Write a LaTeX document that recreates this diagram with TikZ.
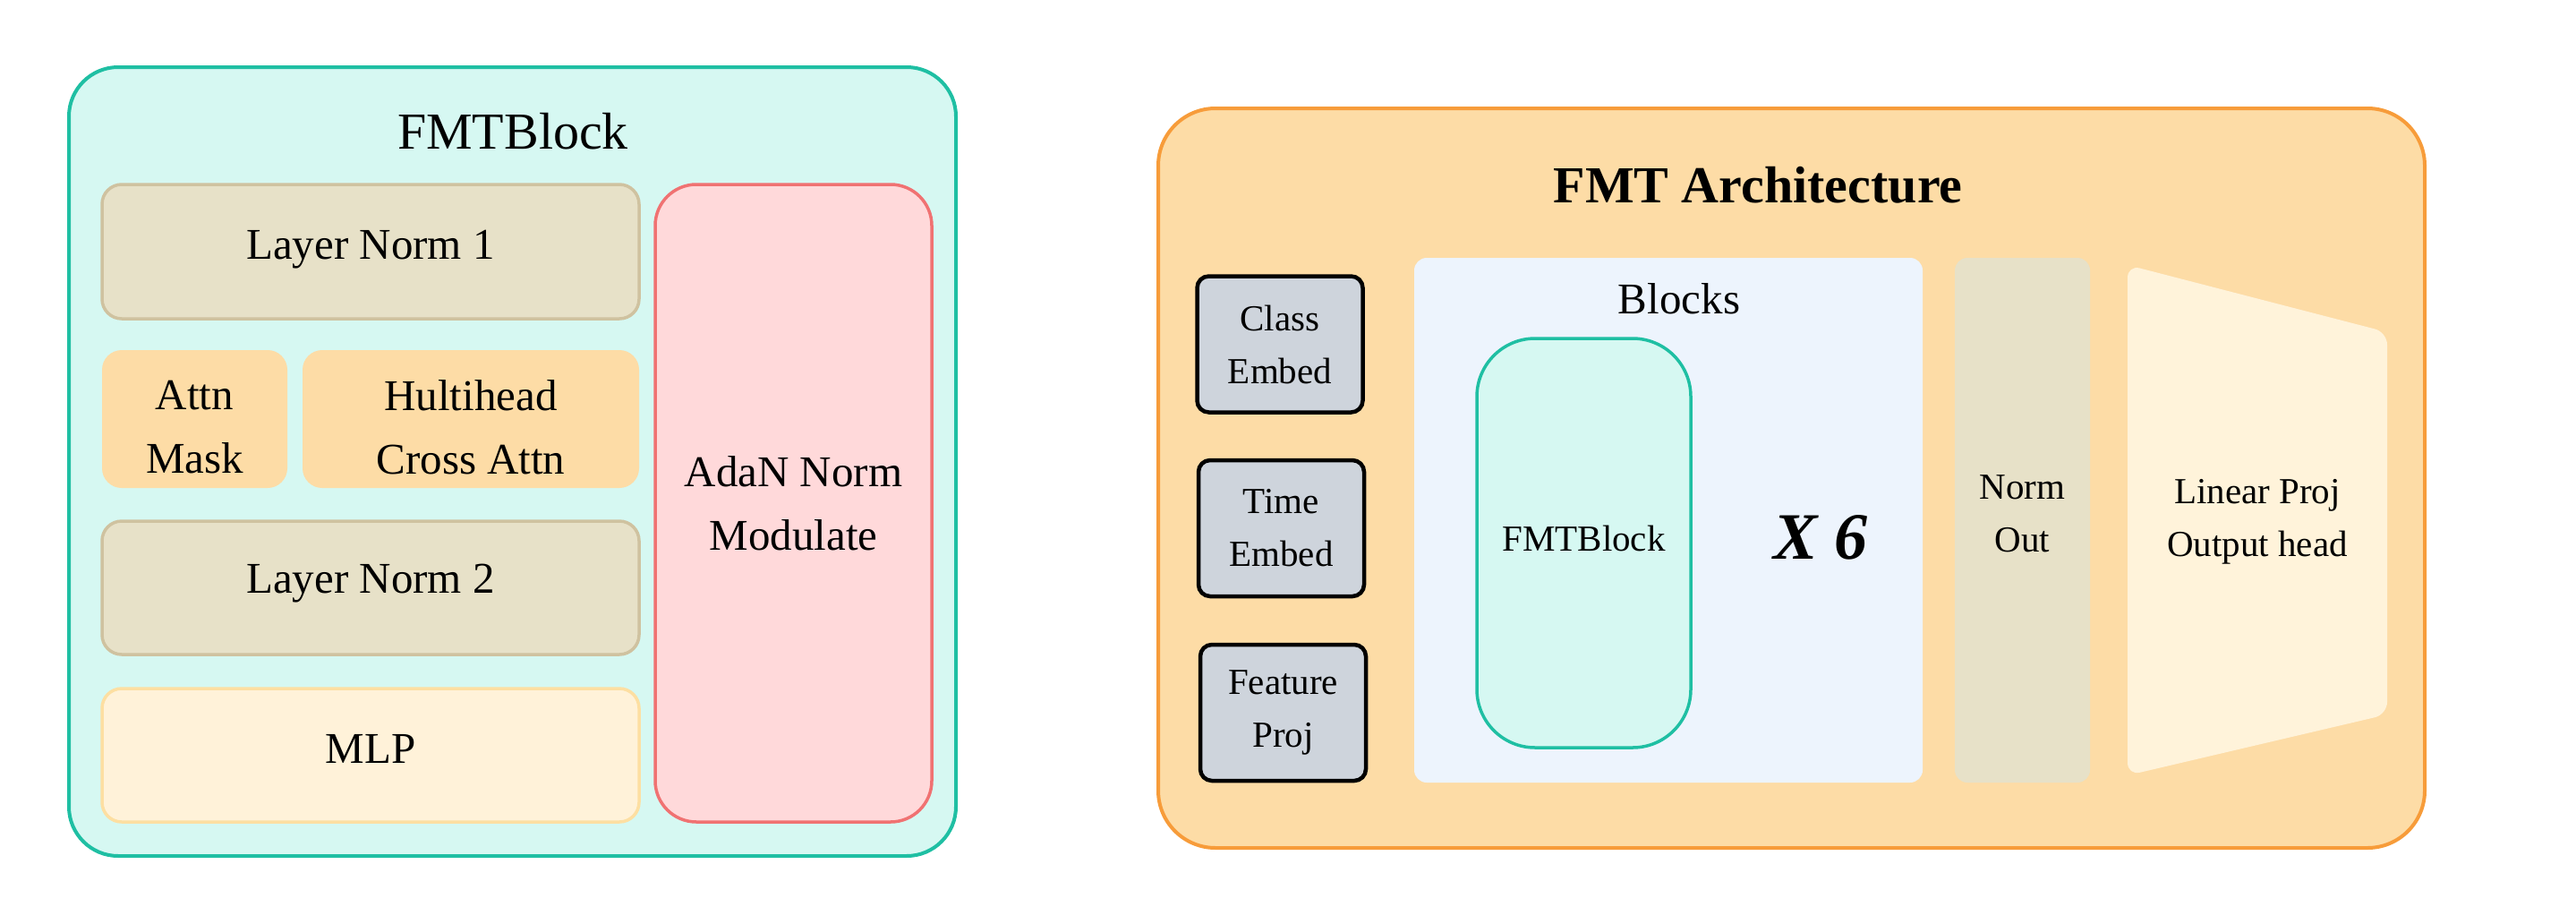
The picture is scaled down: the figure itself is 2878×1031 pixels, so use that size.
\documentclass[tikz,border=0pt]{standalone}
\usepackage{fontspec}
\setmainfont{Liberation Serif}
\definecolor{tealS}{HTML}{1FBFA3}
\definecolor{tealF}{HTML}{D6F8F2}
\definecolor{lnF}{HTML}{E7E1C8}
\definecolor{lnS}{HTML}{CFC2A0}
\definecolor{orF}{HTML}{FDDCA6}
\definecolor{orS}{HTML}{F79C3A}
\definecolor{mlpF}{HTML}{FFF2D9}
\definecolor{mlpS}{HTML}{FDDFA2}
\definecolor{adaF}{HTML}{FFD9DA}
\definecolor{adaS}{HTML}{F07272}
\definecolor{embF}{HTML}{CED4DC}
\definecolor{blkF}{HTML}{EDF4FD}
\definecolor{linF}{HTML}{FFF3DA}
\newcommand\fsBig{\fontsize{49}{71}\selectfont}
\newcommand\fsSmall{\fontsize{41}{59}\selectfont}
\newcommand\fsTitle{\fontsize{58}{70}\selectfont}
\begin{document}
\begin{tikzpicture}[x=1pt,y=-1pt,
  panel/.style={rectangle, inner sep=0pt, line width=4pt},
  bx/.style={rectangle, rounded corners=22pt, inner sep=0pt, align=center, font=\fsBig},
  lnbox/.style={bx, fill=lnF, draw=lnS, line width=3.5pt},
  orbox/.style={bx, fill=orF},
  embbox/.style={rectangle, rounded corners=13pt, inner sep=0pt, align=center, font=\fsSmall, fill=embF, draw=black, line width=4.5pt, minimum width=185pt, minimum height=152pt},
  txt/.style={inner sep=0pt, align=center}]
\useasboundingbox (0,0) rectangle (2878,1031);

% ---------- left panel ----------
\node[panel, rounded corners=55pt, fill=tealF, draw=tealS, minimum width=991pt, minimum height=881pt] (left) at (572.5,515.5) {};
\node[txt, font=\fsTitle] (ltitle) at (573,147) {FMTBlock};
\node[lnbox, minimum width=600pt, minimum height=150pt] (ln1) at (414,281) {};
\node[txt, font=\fsBig] (ln1t) at (414,279) {Layer Norm 1};
\node[orbox, minimum width=207pt, minimum height=154pt] (mask) at (217.5,468) {};
\node[txt, font=\fsBig] (maskt) at (217.5,477) {Attn\\Mask};
\node[orbox, minimum width=376pt, minimum height=154pt] (cross) at (526,468) {};
\node[txt, font=\fsBig] (crosst) at (526,477) {Hultihead\\Cross Attn};
\node[lnbox, minimum width=600pt, minimum height=149pt] (ln2) at (414,656.5) {};
\node[txt, font=\fsBig] (ln2t) at (414,652) {Layer Norm 2};
\node[bx, fill=mlpF, draw=mlpS, line width=3.5pt, minimum width=600pt, minimum height=149pt] (mlp) at (414,843.5) {};
\node[txt, font=\fsBig] (mlpt) at (414,836) {MLP};
\node[bx, rounded corners=46pt, fill=adaF, draw=adaS, line width=3.5pt, minimum width=309pt, minimum height=712pt] (ada) at (886.5,562) {AdaN Norm\\Modulate};

% ---------- right panel ----------
\node[panel, rounded corners=64pt, fill=orF, draw=orS, minimum width=1415pt, minimum height=826pt] (right) at (2001.5,534) {};
\node[txt, font=\fsTitle\bfseries] (rtitle) at (1964,207) {FMT Architecture};
\node[embbox] (cls) at (1430,384.5) {Class\\Embed};
\node[embbox] (time) at (1431.5,590) {Time\\Embed};
\node[embbox] (feat) at (1433.5,796) {Feature\\Proj};
\node[rectangle, rounded corners=14pt, inner sep=0pt, fill=blkF, minimum width=568pt, minimum height=586pt] (blocks) at (1864,581) {};
\node[txt, font=\fsBig] (blabel) at (1876,334) {Blocks};
\node[rectangle, rounded corners=65pt, inner sep=0pt, fill=tealF, draw=tealS, line width=3.5pt, minimum width=239pt, minimum height=457pt] (fmt) at (1769.5,606.5) {};
\node[txt, font=\fsSmall] (fmtt) at (1769.5,601) {FMTBlock};
\node[txt, font=\fontsize{74}{80}\selectfont\bfseries\itshape] (x6) at (2034,600) {X 6};
\node[rectangle, rounded corners=14pt, inner sep=0pt, fill=lnF, minimum width=151pt, minimum height=586pt] (normout) at (2259.5,581) {};
\node[txt, font=\fsSmall] (normoutt) at (2259.5,574) {Norm\\Out};
\coordinate (tl) at (2377,296);
\coordinate (tr) at (2667,371);
\coordinate (br) at (2667,798);
\coordinate (bl) at (2377,866);
\fill[linF, rounded corners=14pt] (tl) -- (tr) -- (br) -- (bl) -- cycle;
\node[txt, font=\fsSmall] (lin) at (2522,583) {Linear Proj\\Output head};
\end{tikzpicture}
\end{document}
